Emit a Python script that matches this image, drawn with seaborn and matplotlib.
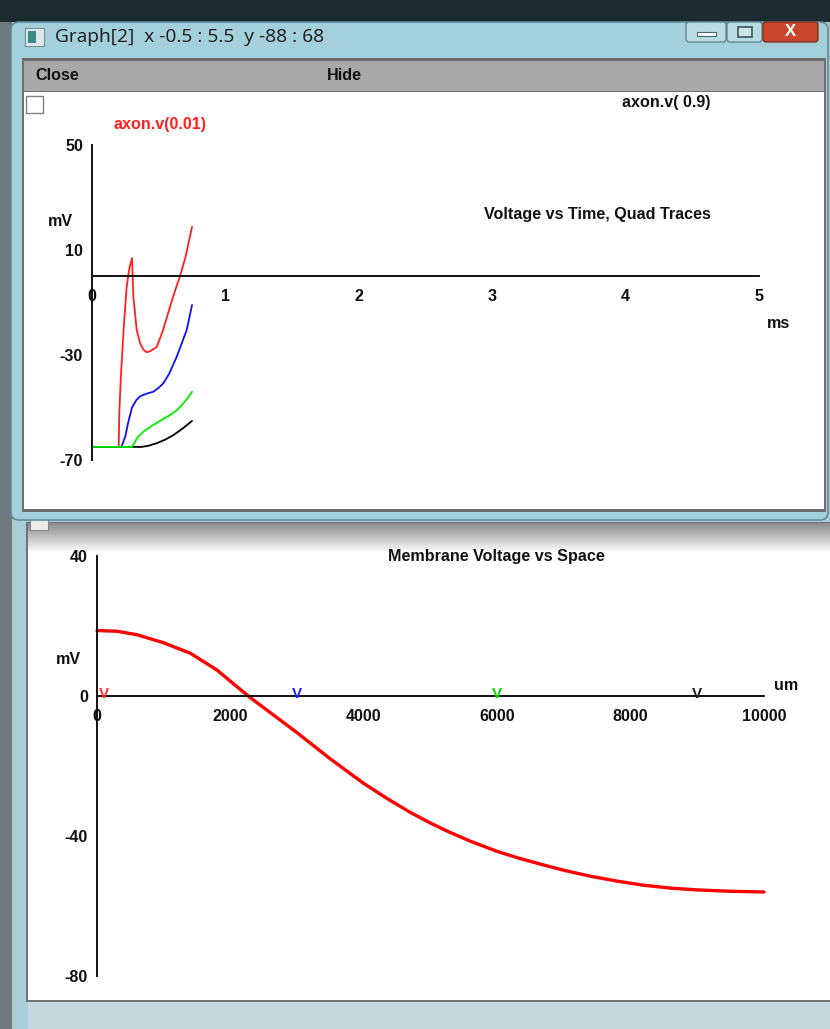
import matplotlib
matplotlib.use("Agg")
import matplotlib.pyplot as plt
from matplotlib.patches import Rectangle, FancyBboxPatch
import seaborn as sns
import numpy as np

# ---------------- data ----------------
red_t = [0, 0.20, 0.205, 0.217, 0.24, 0.26, 0.28, 0.30, 0.31, 0.335, 0.36, 0.385, 0.41, 0.44, 0.485, 0.53, 0.585, 0.62, 0.66, 0.70, 0.75]
red_v = [-65, -65, -51.6, -37.6, -18, -4, 3, 6.8, -7.9, -20.5, -25.5, -28, -29, -28.5, -27, -21, -11.7, -6, 0, 7, 18.7]
blue_t = [0, 0.22, 0.25, 0.27, 0.30, 0.335, 0.36, 0.385, 0.42, 0.46, 0.50, 0.535, 0.58, 0.635, 0.67, 0.71, 0.75]
blue_v = [-65, -65, -61, -56, -50, -47, -45.8, -45.2, -44.6, -44, -42.5, -40.8, -37, -30.7, -26, -20.5, -11]
green_t = [0, 0.30, 0.34, 0.385, 0.42, 0.46, 0.52, 0.585, 0.64, 0.685, 0.72, 0.75]
green_v = [-65, -65, -61.5, -59.2, -58, -56.6, -54.8, -52.9, -50.9, -48.4, -46.3, -44]
black_t = [0, 0.37, 0.42, 0.485, 0.55, 0.61, 0.68, 0.75]
black_v = [-65, -65, -64.6, -63.6, -62.2, -60.5, -58, -55.1]

space_x = [0, 300, 600, 1000, 1400, 1800, 2000, 2300, 2700, 3000, 3500, 4000, 4350, 4700, 5000, 5260, 5600,
           6000, 6300, 6640, 7000, 7400, 7800, 8170, 8600, 9000, 9500, 10000]
space_v = [18.7, 18.5, 17.5, 15.2, 12.2, 7.4, 4.2, -0.5, -6.2, -10.5, -18, -25, -29.3, -33.3, -36.3, -38.7, -41.5,
           -44.4, -46.2, -48.0, -49.8, -51.5, -52.9, -54.0, -54.9, -55.4, -55.8, -56]

time_ticks = [0, 1, 2, 3, 4, 5]
time_vticks = [50, 10, -30, -70]
space_ticks = [0, 2000, 4000, 6000, 8000, 10000]
space_vticks = [40, 0, -40, -80]
marker_x = [100, 3000, 6000, 9000]
marker_colors = ["#ff3030", "#2020ff", "#00e000", "#202020"]

# ---------------- figure ----------------
sns.set_theme(style="white")
plt.rcParams["font.family"] = ["Liberation Sans", "DejaVu Sans"]
W, H = 830, 1029
FS = 11.6
fig = plt.figure(figsize=(W / 100, H / 100), dpi=100)

bg = fig.add_axes([0, 0, 1, 1])
bg.set_xlim(0, W)
bg.set_ylim(H, 0)
bg.axis("off")

def rect(x0, y0, x1, y1, color, z=0, **kw):
    bg.add_patch(Rectangle((x0, y0), x1 - x0, y1 - y0, facecolor=color, edgecolor=kw.pop("ec", "none"), zorder=z, **kw))

# desktop background
rect(0, 0, W, H, "#b9c4c8")
rect(0, 0, W, 22, "#1c2b31", z=1)
rect(0, 22, 12, H, "#6f7a7e", z=1)

# bottom window
rect(14, 515, W, H, "#a8cfd8", z=2)
rect(26, 522, W, 1002, "#6e7275", z=3)
rect(28, 524, W, 1000, "white", z=4)
grad = np.linspace(0.55, 1.0, 30).reshape(-1, 1)
bg.imshow(np.dstack([grad, grad, grad]), extent=(28, W, 553, 523), zorder=4.5, aspect="auto")
rect(30, 518, 48, 530, "#ececec", z=5, ec="#888888", lw=0.8)
rect(28, 1002, W, H, "#c5d7dc", z=3)

# top window
bg.add_patch(FancyBboxPatch((11, 22), 817, 498, boxstyle="round,pad=0,rounding_size=8",
                            facecolor="#a3d0da", edgecolor="#5f8d98", lw=1.2, zorder=6))
rect(22, 58, 826, 512, "#6d6d6d", z=7)
rect(24, 61, 824, 91, "#a9a9a9", z=8)
rect(24, 92, 824, 509, "white", z=8)
rect(26, 96, 43, 113, "white", z=9, ec="#808080", lw=1.0)
rect(25, 28, 44, 46, "#dfe8ea", z=9, ec="#7d8a8e", lw=0.8)
rect(28, 31, 36, 43, "#3b8a86", z=10)
bg.add_patch(FancyBboxPatch((686, 22), 40, 20, boxstyle="round,pad=0,rounding_size=3",
                            facecolor="#b9dbe2", edgecolor="#587e88", lw=0.9, zorder=9))
bg.add_patch(FancyBboxPatch((727, 22), 35, 20, boxstyle="round,pad=0,rounding_size=3",
                            facecolor="#b9dbe2", edgecolor="#587e88", lw=0.9, zorder=9))
bg.add_patch(FancyBboxPatch((763, 22), 55, 20, boxstyle="round,pad=0,rounding_size=3",
                            facecolor="#c9452e", edgecolor="#7a2a1e", lw=0.9, zorder=9))
rect(697, 32, 716, 36, "white", z=10, ec="#4d6770", lw=0.8)
rect(738, 27, 752, 37, "#c9e3e8", z=10, ec="#4d6770", lw=1.4)
bg.text(790, 31, "X", ha="center", va="center", fontsize=12, fontweight="bold", color="white", zorder=11)

bg.text(55, 37, "Graph[2]  x -0.5 : 5.5  y -88 : 68", ha="left", va="center", fontsize=13.8,
        family=["Open Sans", "DejaVu Sans"], color="#1a1a1a", zorder=11)

def label(x, y, s, ha="center", color="#111111"):
    bg.text(x, y, s, ha=ha, va="center", fontsize=FS, fontweight="bold", color=color, zorder=11)

label(35, 75, "Close", ha="left")
label(327, 75, "Hide", ha="left")
label(622, 102, "axon.v( 0.9)", ha="left")
label(113, 124, "axon.v(0.01)", ha="left", color="#ff2020")
label(597, 214, "Voltage vs Time, Quad Traces")
label(60, 222, "mV")
label(778, 323, "ms")
label(496, 557, "Membrane Voltage vs Space")
label(68, 660, "mV")
label(786, 686, "um")

def frac_box(x0, y0, x1, y1):
    return [x0 / W, 1 - y1 / H, (x1 - x0) / W, (y1 - y0) / H]

def style_axes(ax, xb, yb, xt, yt):
    for s in ["top", "right"]:
        ax.spines[s].set_visible(False)
    for s in ["left", "bottom"]:
        ax.spines[s].set_color("#111111")
        ax.spines[s].set_linewidth(1.4)
    ax.spines["left"].set_position(("data", 0))
    ax.spines["bottom"].set_position(("data", 0))
    ax.spines["left"].set_bounds(*yb)
    ax.spines["bottom"].set_bounds(*xb)
    ax.set_xticks(xt)
    ax.set_yticks(yt)
    ax.set_xticklabels([str(v) for v in xt])
    ax.set_yticklabels([str(v) for v in yt])
    ax.tick_params(axis="x", direction="in", length=11.5, width=1.4, color="#111111", pad=9.5,
                   labelsize=FS, labelcolor="#111111")
    ax.tick_params(axis="y", direction="in", length=9.5, width=1.4, color="#111111", pad=6.5,
                   labelsize=FS, labelcolor="#111111")
    for lab in ax.get_xticklabels() + ax.get_yticklabels():
        lab.set_fontweight("bold")
    ax.set_xlabel("")
    ax.set_ylabel("")
    ax.patch.set_alpha(0)

# ---- top: voltage vs time ----
ax1 = fig.add_axes(frac_box(25.3, 97.2, 825.7, 507.4))
ax1.set_xlim(-0.5, 5.5)
ax1.set_ylim(-88, 68)
for t, v, c in [(red_t, red_v, "#ff2020"), (blue_t, blue_v, "#1010ff"),
                (black_t, black_v, "#000000"), (green_t, green_v, "#00ee00")]:
    sns.lineplot(x=t, y=v, ax=ax1, color=c, lw=1.3, sort=False, estimator=None)
style_axes(ax1, (0, 5), (-70, 50), time_ticks, time_vticks)

# ---- bottom: voltage vs space ----
ax2 = fig.add_axes(frac_box(30, 528, 828, 1000))
ax2.set_xlim(-1005, 10960)
ax2.set_ylim(-86.86, 48)
sns.lineplot(x=space_x, y=space_v, ax=ax2, color="#ff0000", lw=2.4, sort=False, estimator=None)
style_axes(ax2, (0, 10000), (-80, 40), space_ticks, space_vticks)
for mx, mc in zip(marker_x, marker_colors):
    ax2.text(mx, 0.6, "V", color=mc, ha="center", va="center", fontsize=11, fontweight="bold")

fig.savefig("out.png", dpi=100)
